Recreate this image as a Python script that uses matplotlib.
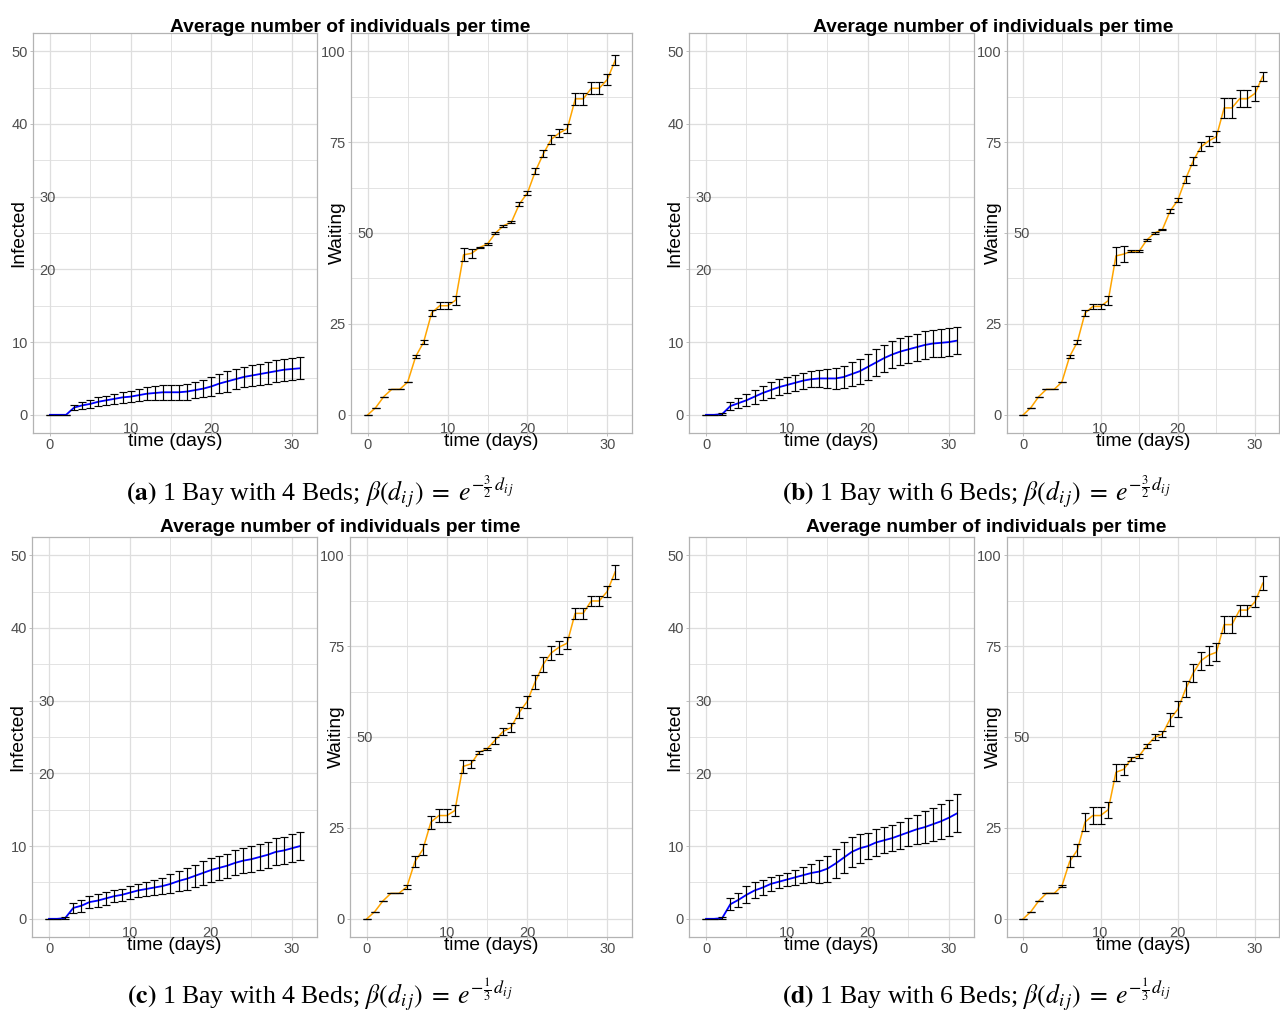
import numpy as np
import matplotlib
matplotlib.use("Agg")
import matplotlib.pyplot as plt
from matplotlib.transforms import ScaledTranslation

plt.rcParams["font.family"] = ["Liberation Sans", "DejaVu Sans"]
plt.rcParams["mathtext.fontset"] = "stix"

# ----------------------------------------------------------------------
# Data: mean and error-bar half width per day.
# ----------------------------------------------------------------------

days = np.arange(32)

infected_a = [0, 0, 0, 1.0, 1.3, 1.5, 1.8, 2.0, 2.2, 2.4, 2.5, 2.7, 2.9, 3.0, 3.1, 3.1,
              3.1, 3.2, 3.4, 3.6, 3.9, 4.3, 4.6, 4.9, 5.2, 5.4, 5.6, 5.8, 6.0, 6.2, 6.3, 6.4]
infected_a_err = [0, 0, 0, 0.4, 0.5, 0.55, 0.6, 0.65, 0.7, 0.75, 0.8, 0.85, 0.9, 0.95, 1.0, 1.0,
                  1.05, 1.1, 1.15, 1.2, 1.3, 1.35, 1.4, 1.4, 1.4, 1.45, 1.45, 1.5, 1.5, 1.5, 1.5, 1.5]
waiting_a = [0, 2, 5, 7, 7, 9, 16, 20, 28, 30, 30, 31.5, 44, 44.4, 46, 47,
             50, 52, 53, 58, 61, 67, 71.8, 75.8, 77.5, 78.7, 86.9, 86.9, 89.8, 89.8, 92.2, 97.5]
waiting_a_err = [0, 0, 0, 0, 0, 0, 0.4, 0.5, 0.8, 1.0, 1.0, 1.3, 1.8, 1.3, 0.2, 0.2,
                 0.3, 0.3, 0.3, 0.5, 0.5, 0.8, 1.0, 1.2, 1.0, 1.3, 1.7, 1.7, 1.7, 1.7, 1.5, 1.4]

infected_b = [0, 0, 0.1, 1.2, 1.6, 2.0, 2.5, 3.0, 3.4, 3.8, 4.1, 4.4, 4.7, 4.9, 5.0, 5.0,
              5.0, 5.2, 5.6, 6.0, 6.6, 7.2, 7.8, 8.3, 8.7, 9.0, 9.3, 9.6, 9.8, 9.9, 10.0, 10.2]
infected_b_err = [0, 0, 0.1, 0.5, 0.7, 0.85, 0.95, 1.0, 1.05, 1.1, 1.1, 1.1, 1.1, 1.1, 1.2, 1.3,
                  1.4, 1.5, 1.6, 1.7, 1.8, 1.85, 1.85, 1.85, 1.85, 1.85, 1.85, 1.9, 1.9, 1.9, 1.9, 1.9]
waiting_b = [0, 2, 5, 7, 7, 9, 16, 20, 28, 29.8, 29.8, 31.4, 43.7, 44.2, 45, 45,
             48.1, 50, 50.9, 56, 59, 64.8, 69.8, 73.7, 75.3, 76.5, 84.4, 84.4, 86.9, 86.9, 88.4, 93.1]
waiting_b_err = [0, 0, 0, 0, 0, 0, 0.4, 0.5, 0.9, 0.8, 0.8, 1.2, 2.4, 2.2, 0.3, 0.2,
                 0.2, 0.2, 0.2, 0.5, 0.6, 1.0, 1.1, 1.2, 1.3, 1.5, 2.7, 2.7, 2.3, 2.3, 2.0, 1.3]

infected_c = [0, 0, 0.1, 1.5, 1.8, 2.3, 2.5, 2.8, 3.1, 3.3, 3.6, 3.9, 4.1, 4.3, 4.5, 4.8,
              5.2, 5.5, 5.9, 6.3, 6.7, 7.0, 7.3, 7.7, 8.0, 8.2, 8.5, 8.8, 9.2, 9.4, 9.7, 10.0]
infected_c_err = [0, 0, 0.15, 0.65, 0.8, 0.85, 0.85, 0.85, 0.85, 0.85, 0.85, 0.9, 0.95, 1.0, 1.1, 1.3,
                  1.4, 1.5, 1.55, 1.6, 1.6, 1.6, 1.65, 1.7, 1.7, 1.75, 1.8, 1.8, 1.85, 1.85, 1.9, 1.9]
waiting_c = [0, 2, 4.9, 7, 7, 8.8, 15.7, 19.1, 26.6, 28.4, 28.4, 29.8, 41.9, 42.6, 45.8, 46.7,
             49.1, 51.5, 52.6, 56.7, 59.7, 65.1, 69.9, 73.1, 74.7, 75.8, 84.0, 84.0, 87.4, 87.4, 90.0, 95.4]
waiting_c_err = [0, 0, 0, 0, 0, 0.6, 1.5, 1.6, 1.8, 1.7, 1.7, 1.5, 1.7, 1.2, 0.4, 0.4,
                 1.0, 1.0, 1.2, 1.6, 1.7, 2.0, 2.0, 1.8, 1.8, 1.6, 1.5, 1.5, 1.3, 1.3, 1.5, 1.9]

infected_d = [0, 0, 0.1, 2.0, 2.6, 3.3, 3.9, 4.3, 4.8, 5.1, 5.4, 5.7, 6.0, 6.3, 6.5, 6.9,
              7.6, 8.4, 9.2, 9.7, 10.0, 10.5, 10.8, 11.1, 11.5, 11.9, 12.3, 12.6, 13.0, 13.4, 13.9, 14.5]
infected_d_err = [0, 0, 0.15, 0.85, 1.0, 1.15, 1.1, 1.0, 0.95, 0.9, 0.9, 1.0, 1.1, 1.2, 1.6, 1.8,
                  2.05, 2.1, 2.1, 2.0, 1.8, 1.8, 1.8, 1.8, 1.85, 1.9, 2.0, 2.2, 2.3, 2.4, 2.5, 2.6]
waiting_d = [0, 2, 4.9, 7, 7, 9.0, 15.7, 18.9, 26.6, 28.4, 28.4, 30.0, 40.3, 41.1, 44.0, 44.8,
             47.6, 49.9, 50.8, 54.9, 57.6, 63.1, 67.6, 71.0, 72.5, 73.3, 80.9, 80.9, 84.9, 84.9, 87.2, 92.3]
waiting_d_err = [0, 0, 0, 0, 0, 0.3, 1.5, 1.7, 2.4, 2.3, 2.3, 2.2, 2.3, 1.6, 0.5, 0.5,
                 0.6, 0.8, 0.8, 1.8, 2.2, 2.2, 2.5, 2.5, 2.6, 2.5, 2.4, 2.4, 1.5, 1.5, 1.5, 1.9]

title = "Average number of individuals per time"
captions = [
    r"$\mathbf{(a)}$ 1 Bay with 4 Beds; $\beta(d_{i\,j})\;=\;e^{-\frac{3}{2}\,d_{i\,j}}$",
    r"$\mathbf{(b)}$ 1 Bay with 6 Beds; $\beta(d_{i\,j})\;=\;e^{-\frac{3}{2}\,d_{i\,j}}$",
    r"$\mathbf{(c)}$ 1 Bay with 4 Beds; $\beta(d_{i\,j})\;=\;e^{-\frac{1}{3}\,d_{i\,j}}$",
    r"$\mathbf{(d)}$ 1 Bay with 6 Beds; $\beta(d_{i\,j})\;=\;e^{-\frac{1}{3}\,d_{i\,j}}$",
]

# ----------------------------------------------------------------------
# Layout, in pixels: (left, top, right, bottom) for each plot panel.
# ----------------------------------------------------------------------

FIG_W, FIG_H = 1280, 1010
DPI = 100

layout = [
    # infected box, waiting box, title centre, caption centre
    ((33, 33, 317, 433), (351, 33, 632, 433), (350, 27), (320, 492)),
    ((689, 33, 974, 433), (1007, 33, 1279, 433), (993, 27), (977, 492)),
    ((32, 537, 317, 937), (350, 537, 632, 937), (340, 528), (320, 995)),
    ((689, 537, 974, 937), (1007, 537, 1279, 937), (986, 528), (977, 995)),
]

GRID = "#DEDEDE"
BORDER = "#B3B3B3"
TICK_TEXT = "#4D4D4D"


def place_axes(fig, box):
    left, top, right, bottom = box
    return fig.add_axes([left / FIG_W, 1 - bottom / FIG_H,
                         (right - left) / FIG_W, (bottom - top) / FIG_H])


def shift_labels(fig, labels, keep, dx, dy):
    # The source figure has some tick labels drawn off their usual spot.
    for lab in labels:
        if lab.get_text() in keep:
            lab.set_transform(lab.get_transform()
                              + ScaledTranslation(dx / 72, dy / 72, fig.dpi_scale_trans))


def draw_panel(fig, box, mean, err, ymax, major, minor, colour, lw, ylabel, shifted_y):
    ax = place_axes(fig, box)
    width_px = box[2] - box[0]

    ax.plot(days, mean, color=colour, linewidth=lw, zorder=2)
    ax.errorbar(days, mean, yerr=err, fmt="none", ecolor="black",
                elinewidth=0.85, capsize=2.9, capthick=0.85, zorder=3)

    ax.set_xlim(-2.1, 33.1)
    ax.set_ylim(-0.05 * ymax, 1.05 * ymax)

    ax.set_xticks([0, 10, 20, 30])
    ax.set_xticklabels(["0", "10", "20", "30"])
    ax.set_xticks([5, 15, 25], minor=True)
    yt = np.arange(0, ymax + 0.1, major)
    ax.set_yticks(yt)
    ax.set_yticklabels([f"{v:g}" for v in yt])
    ax.set_yticks(np.arange(minor, ymax, major), minor=True)

    ax.grid(which="major", color=GRID, linewidth=0.9, zorder=0)
    ax.grid(which="minor", color=GRID, linewidth=0.6, zorder=0)
    ax.set_axisbelow(True)

    for spine in ax.spines.values():
        spine.set_color(BORDER)
        spine.set_linewidth(0.9)

    ax.tick_params(which="major", length=2.2, width=0.6, color=BORDER,
                   labelcolor=TICK_TEXT, labelsize=10.5, pad=1.5)
    ax.tick_params(which="minor", length=0)

    shift_labels(fig, ax.get_yticklabels(), shifted_y, 20, 0)
    shift_labels(fig, ax.get_xticklabels(), ["10", "20"], 0, 11.5)

    ax.text(0.5, -9 / 400, "time (days)", transform=ax.transAxes,
            ha="center", va="center", fontsize=13.8, color="black")
    ax.text(-14 / width_px, 0.5, ylabel, transform=ax.transAxes, rotation=90,
            ha="center", va="center", fontsize=13.8, color="black")
    return ax


fig = plt.figure(figsize=(FIG_W / DPI, FIG_H / DPI), dpi=DPI)

series = [
    (infected_a, infected_a_err, waiting_a, waiting_a_err),
    (infected_b, infected_b_err, waiting_b, waiting_b_err),
    (infected_c, infected_c_err, waiting_c, waiting_c_err),
    (infected_d, infected_d_err, waiting_d, waiting_d_err),
]

for (inf, inf_err, wait, wait_err), (box_i, box_w, tpos, cpos), cap in zip(series, layout, captions):
    draw_panel(fig, box_i, inf, inf_err, 50, 10, 5, "#0000FF", 1.3,
               "Infected", ["30", "20"])
    draw_panel(fig, box_w, wait, wait_err, 100, 25, 12.5, "#FFA500", 1.1,
               "Waiting", ["50"])

    fig.text(tpos[0] / FIG_W, 1 - tpos[1] / FIG_H, title, ha="center", va="center",
             fontsize=13.9, fontweight="bold")
    fig.text(cpos[0] / FIG_W, 1 - cpos[1] / FIG_H, cap, ha="center", va="center",
             fontsize=18.5, family=["Liberation Serif", "DejaVu Serif"])

fig.savefig("out.png", dpi=DPI)
